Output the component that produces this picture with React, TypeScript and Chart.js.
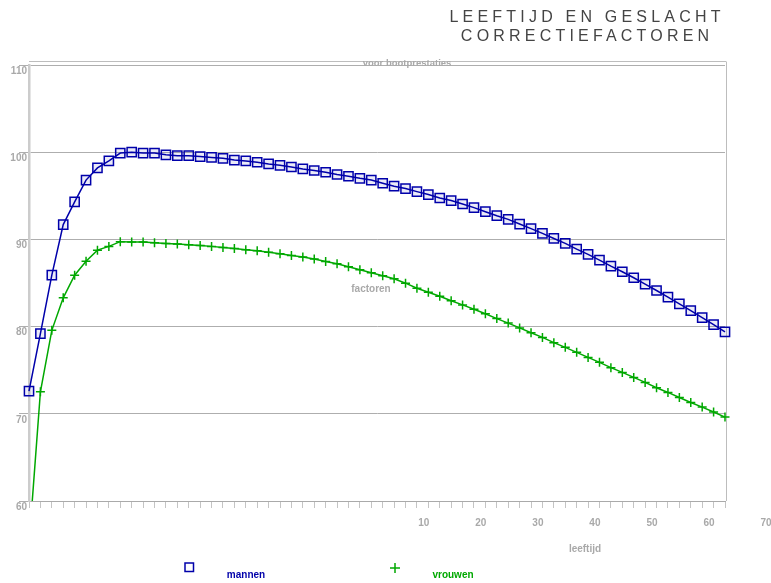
import React, { useEffect, useRef } from 'react';
import { Chart, registerables } from 'chart.js';

Chart.register(...registerables);

// ---- data ----
const CATEGORIES = [
  '1', '2', '3', '4', '5', '6', '7', '8', '9', '10',
  '11', '12', '13', '14', '15', '16', '17', '18', '19', '20',
  '21', '22', '23', '24', '25', '26', '27', '28', '29', '30',
  '31', '32', '33', '34', '35', '36', '37', '38', '39', '40',
  '41', '42', '43', '44', '45', '46', '47', '48', '49', '50',
  '51', '52', '53', '54', '55', '56', '57', '58', '59', '60',
  '61', '62',
];

const MANNEN = [
  72.6, 79.2, 85.9, 91.7, 94.3, 96.8, 98.2, 99.0, 99.9, 100.0,
  99.9, 99.9, 99.7, 99.6, 99.6, 99.5, 99.4, 99.3, 99.1, 99.0,
  98.85, 98.66, 98.5, 98.3, 98.08, 97.9, 97.7, 97.44, 97.24, 97.0,
  96.8, 96.44, 96.1, 95.83, 95.48, 95.14, 94.75, 94.45, 94.06, 93.64,
  93.18, 92.72, 92.3, 91.76, 91.23, 90.69, 90.11, 89.54, 88.89, 88.28,
  87.62, 86.93, 86.29, 85.6, 84.86, 84.14, 83.37, 82.61, 81.84, 81.03,
  80.23, 79.39,
];

const VROUWEN = [
  55.0, 72.53, 79.57, 83.3, 85.9, 87.5, 88.77, 89.2, 89.74, 89.7,
  89.7, 89.62, 89.54, 89.46, 89.39, 89.31, 89.2, 89.08, 88.97, 88.82,
  88.7, 88.54, 88.36, 88.16, 87.97, 87.74, 87.47, 87.21, 86.86, 86.52,
  86.17, 85.83, 85.48, 84.98, 84.4, 83.94, 83.48, 82.97, 82.49, 81.99,
  81.47, 80.92, 80.4, 79.85, 79.29, 78.76, 78.16, 77.62, 77.05, 76.47,
  75.9, 75.29, 74.75, 74.17, 73.6, 72.99, 72.45, 71.87, 71.3, 70.77,
  70.2, 69.62,
];

const X_TICK_LABELS = [10, 20, 30, 40, 50, 60, 70];
const Y_MIN = 60;
const Y_MAX = 110;
const Y_STEP = 10;

const TITLE_LINES = ['LEEFTIJD EN GESLACHT', 'CORRECTIEFACTOREN'];
const SUBTITLE = 'voor bootprestaties';
const Y_TITLE = 'factoren';
const X_TITLE = 'leeftijd';
const SERIES_NAMES = ['mannen', 'vrouwen'];

// ---- styles ----
const FONT = "'Liberation Sans', Arial, Helvetica, sans-serif";
const GRAY_TEXT = '#a9a9a9';
const BLUE = '#0000aa';
const GREEN = '#00a800';

// category-position of an x label value (labels in the original sit offset on the axis)
const xLabelPos = (v: number) => 29.6 + v / 2;

const decorPlugin = {
  id: 'decor',
  beforeDatasetsDraw(chart: any) {
    const { ctx, chartArea } = chart;
    ctx.save();
    ctx.strokeStyle = '#bdbdbd';
    ctx.lineWidth = 1;
    // right border
    ctx.beginPath();
    ctx.moveTo(chartArea.right + 1.5, chartArea.top - 3);
    ctx.lineTo(chartArea.right + 1.5, chartArea.bottom);
    ctx.stroke();
    // top double line
    ctx.beginPath();
    ctx.moveTo(chartArea.left, chartArea.top - 3.5);
    ctx.lineTo(chartArea.right + 1.5, chartArea.top - 3.5);
    ctx.stroke();
    ctx.restore();
  },
  afterDraw(chart: any) {
    const { ctx, chartArea } = chart;
    const xScale = chart.scales.x;
    ctx.save();

    // title
    ctx.fillStyle = '#444444';
    ctx.font = `16px ${FONT}`;
    ctx.textBaseline = 'middle';
    ctx.textAlign = 'left';
    const spacing = 4.2;
    (ctx as any).letterSpacing = `${spacing}px`;
    const titleCx = 585;
    TITLE_LINES.forEach((line, i) => {
      const w = ctx.measureText(line).width - spacing;
      ctx.fillText(line, titleCx - w / 2, 18 + i * 19);
    });
    (ctx as any).letterSpacing = '0px';

    // subtitle over the top border
    ctx.textAlign = 'center';
    ctx.fillStyle = GRAY_TEXT;
    ctx.font = `bold 9.5px ${FONT}`;
    ctx.fillText(SUBTITLE, 407, chartArea.top - 2);

    // y title in the middle of the plot
    ctx.font = `bold 10px ${FONT}`;
    ctx.fillText(Y_TITLE, 371, 289);

    // x tick labels
    X_TICK_LABELS.forEach((v) => {
      const x = xScale.getPixelForValue(xLabelPos(v));
      ctx.fillText(String(v), x, chartArea.bottom + 22);
    });

    // x title
    ctx.fillText(X_TITLE, 585, chartArea.bottom + 48);

    // legend
    const ds = chart.data.datasets;
    // mannen: square
    ctx.strokeStyle = ds[0].borderColor;
    ctx.lineWidth = 1.5;
    ctx.strokeRect(185, 563, 8.5, 8.5);
    ctx.fillStyle = ds[0].borderColor;
    ctx.font = `bold 10px ${FONT}`;
    ctx.fillText(SERIES_NAMES[0], 246, 575);
    // vrouwen: plus
    ctx.strokeStyle = ds[1].borderColor;
    ctx.beginPath();
    ctx.moveTo(390, 568);
    ctx.lineTo(400, 568);
    ctx.moveTo(395, 563);
    ctx.lineTo(395, 573);
    ctx.stroke();
    ctx.fillStyle = ds[1].borderColor;
    ctx.fillText(SERIES_NAMES[1], 453, 575);

    ctx.restore();
  },
};

export default function App() {
  const canvasRef = useRef<HTMLCanvasElement | null>(null);

  useEffect(() => {
    const canvas = canvasRef.current;
    if (!canvas) return;
    const chart = new Chart(canvas, {
      type: 'line',
      data: {
        labels: CATEGORIES,
        datasets: [
          {
            label: SERIES_NAMES[0],
            data: MANNEN,
            borderColor: BLUE,
            backgroundColor: 'rgba(0,0,170,0.08)',
            borderWidth: 1.5,
            pointStyle: 'rect',
            pointRadius: 6.5,
            pointBorderWidth: 1.5,
            pointBorderColor: BLUE,
            pointBackgroundColor: 'rgba(0,0,170,0.08)',
            tension: 0,
            fill: false,
            clip: { left: 10, right: 10, top: 10, bottom: 0 },
          },
          {
            label: SERIES_NAMES[1],
            data: VROUWEN,
            borderColor: GREEN,
            backgroundColor: GREEN,
            borderWidth: 1.5,
            pointStyle: 'cross',
            pointRadius: 4.5,
            pointBorderWidth: 1.5,
            pointBorderColor: GREEN,
            tension: 0,
            fill: false,
            clip: { left: 10, right: 10, top: 10, bottom: 0 },
          },
        ],
      },
      options: {
        responsive: false,
        animation: false,
        layout: { padding: { top: 65, right: 46, bottom: 75, left: 0 } },
        plugins: {
          legend: { display: false },
          title: { display: false },
          tooltip: { enabled: false },
        },
        scales: {
          x: {
            type: 'category',
            offset: false,
            grid: {
              drawOnChartArea: false,
              drawTicks: true,
              tickLength: 7,
              color: '#c4c4c4',
            },
            border: { display: true, color: '#aaaaaa', width: 1 },
            ticks: {
              autoSkip: false,
              maxRotation: 0,
              callback: () => '',
            },
            afterFit: (scale: any) => {
              scale.height = 7;
            },
          },
          y: {
            type: 'linear',
            min: Y_MIN,
            max: Y_MAX,
            grid: {
              color: '#aeaeae',
              lineWidth: 1,
              tickLength: 10,
              drawTicks: true,
            },
            border: { display: true, color: '#cccccc', width: 2.5 },
            ticks: {
              stepSize: Y_STEP,
              padding: -8,
              labelOffset: 6,
              color: GRAY_TEXT,
              font: { family: FONT, size: 10, weight: 'bold' },
            },
            afterFit: (scale: any) => {
              scale.width = 29;
            },
          },
        },
      },
      plugins: [decorPlugin],
    } as any);
    return () => chart.destroy();
  }, []);

  return (
    <div style={{ position: 'absolute', left: 0, top: 0, width: 771, height: 583, background: '#ffffff' }}>
      <canvas ref={canvasRef} width={771} height={583} style={{ display: 'block' }} />
    </div>
  );
}
